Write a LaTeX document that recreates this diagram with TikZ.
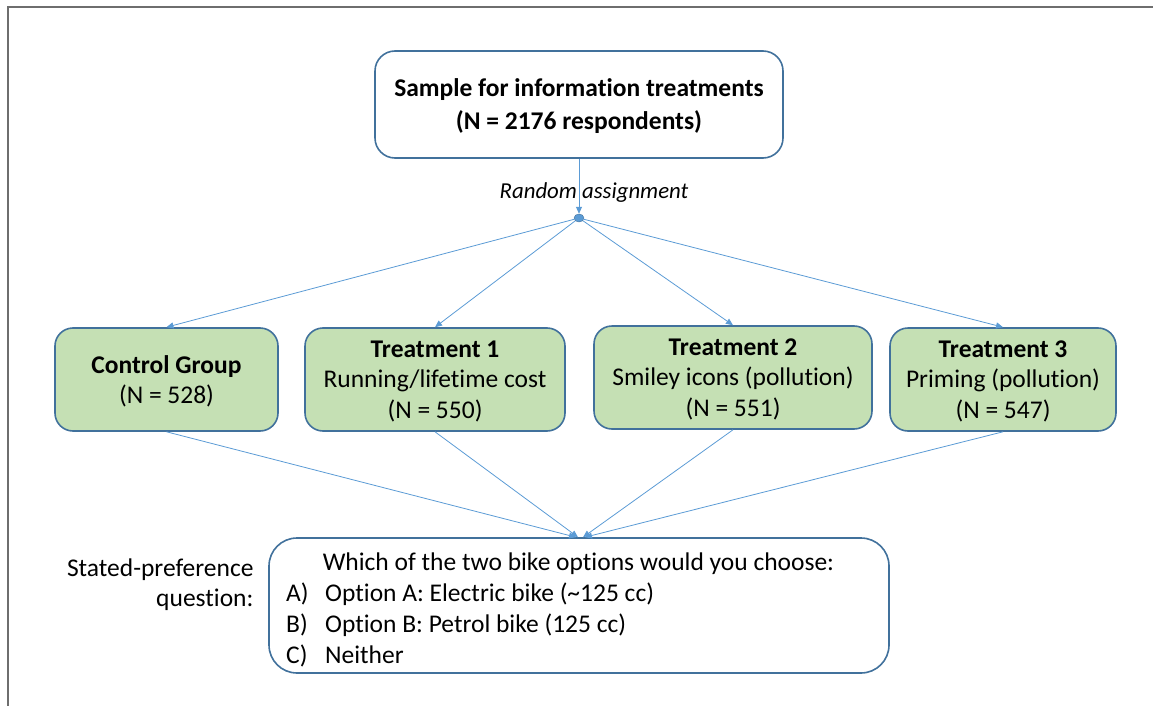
\documentclass[tikz,border=0pt]{standalone}
\usepackage{fontspec}
\setmainfont{Carlito}[Ligatures=NoCommon]
\usetikzlibrary{arrows.meta}
\usetikzlibrary{shapes.geometric}
\definecolor{boxline}{HTML}{41719C}
\definecolor{arrowblue}{HTML}{5B9BD5}
\definecolor{greenfill}{HTML}{C5E0B4}
\definecolor{framegray}{HTML}{6E6E6E}

\begin{document}
\begin{tikzpicture}[x=1pt,y=-1pt,
    topbox/.style={draw=boxline, line width=1.6pt, rounded corners=20pt, fill=white,
      minimum width=408pt, minimum height=107pt, align=center, text depth=-4.5pt,
      font=\fontsize{25.5}{33}\selectfont\bfseries},
    groupbox/.style={draw=boxline, line width=1.6pt, rounded corners=18pt, fill=greenfill,
      minimum height=103pt, align=center, text depth=0pt, font=\fontsize{25.5}{30.5}\selectfont},
    qline/.style={font=\fontsize{25.5}{30}\selectfont, anchor=west, inner sep=0pt},
    link/.style={draw=arrowblue, line width=0.8pt, -{Triangle[length=7pt,width=6pt]}}]
                \useasboundingbox (0,0) rectangle (1153,706);
                \draw [framegray, line width=1.2pt] (8,706) -- (8,7) -- (1153,7);
                % sample and random assignment
                \node [topbox] (sample) at (579,104.5) {Sample for information treatments\\(N = 2176 respondents)};
                \node [draw=boxline, fill=arrowblue, ellipse, inner sep=0pt, minimum width=10pt, minimum height=8pt] (split) at (579,218) {};
                \node [font=\fontsize{22.8}{26}\selectfont\itshape] (randlab) at (594,193) {Random assignment};
                \draw [link] (sample.south) -- (split.north);
                % groups
                \node [groupbox, minimum width=223pt] (ctrl) at (166.5,379.5) {\textbf{Control Group}\\(N = 528)};
                \node [groupbox, minimum width=260pt] (treat1) at (435,379.5) {\textbf{Treatment 1}\\Running/lifetime cost\\(N = 550)};
                \node [groupbox, minimum width=278pt] (treat2) at (733,377.5) {\textbf{Treatment 2}\\Smiley icons (pollution)\\(N = 551)};
                \node [groupbox, minimum width=226pt] (treat3) at (1003,379.5) {\textbf{Treatment 3}\\Priming (pollution)\\(N = 547)};
                \draw [link] (split) -- (ctrl.north);
                \draw [link] (split) -- (treat1.north);
                \draw [link] (split) -- (treat2.north);
                \draw [link] (split) -- (treat3.north);
                % stated-preference question
                \node [draw=boxline, line width=1.6pt, rounded corners=28pt, fill=white,
                  minimum width=620pt, minimum height=135pt] (question) at (579,605.5) {};
                \node [font=\fontsize{25.5}{30}\selectfont] (qtext) at (578.5,564) {Which of the two bike options would you choose:};
                \node [qline] (qa) at (286,594) {\makebox[39pt][l]{A)}Option A: Electric bike (\textasciitilde125 cc)};
                \node [qline] (qb) at (286,625) {\makebox[39pt][l]{B)}Option B: Petrol bike (125 cc)};
                \node [qline] (qc) at (286,656) {\makebox[39pt][l]{C)}Neither};
                \node [font=\fontsize{25.5}{30}\selectfont, align=right, anchor=east] (splab) at (257,585) {Stated-preference\\question:};
                \draw [link] (ctrl.south) -- ([xshift=-3pt]question.north);
                \draw [link] (treat1.south) -- ([xshift=-1pt]question.north);
                \draw [link] (treat2.south) -- ([xshift=4pt]question.north);
                \draw [link] (treat3.south) -- ([xshift=6pt]question.north);
\end{tikzpicture}
\end{document}
